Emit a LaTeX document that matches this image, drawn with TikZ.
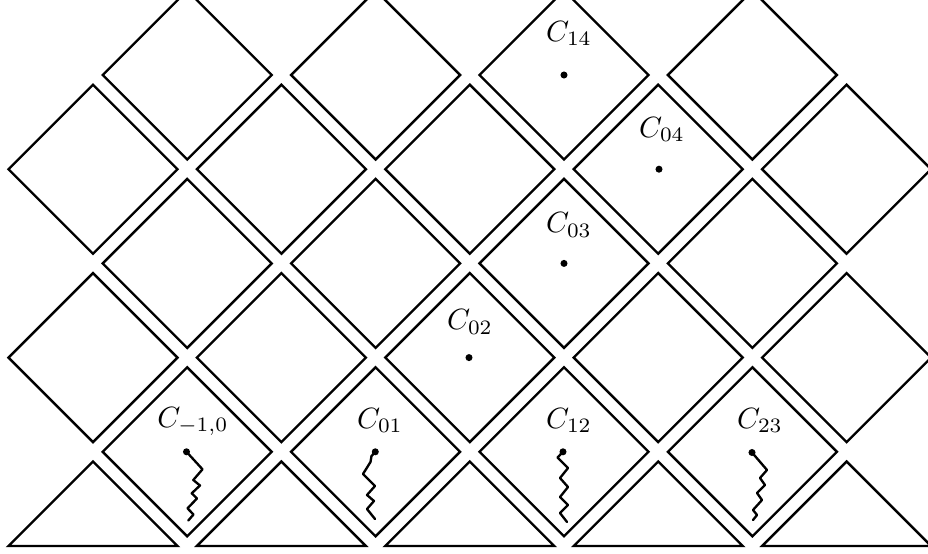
\documentclass[tikz,border=0pt]{standalone}
\begin{document}
\begin{tikzpicture}[x=0.3413pt,y=-0.3413pt,
  cell/.style={line width=0.8pt},
  squig/.style={line width=0.8pt,line join=round,line cap=round},
  lab/.style={anchor=base,inner sep=0pt,font=\normalsize}]
\useasboundingbox (0,0) rectangle (928,554);
\clip (0,0) rectangle (928,554);
\def\h{84.5}
% full diamonds, even rows
\foreach \y in {75,263.4,451.8}
  \foreach \x in {187.2,375.6,564,752.4}
    \draw[cell] (\x-\h,\y) -- (\x,\y-\h) -- (\x+\h,\y) -- (\x,\y+\h) -- cycle;
% full diamonds, odd rows
\foreach \y in {169.2,357.6}
  \foreach \x in {93,281.4,469.8,658.2,846.6}
    \draw[cell] (\x-\h,\y) -- (\x,\y-\h) -- (\x+\h,\y) -- (\x,\y+\h) -- cycle;
% bottom half diamonds
\foreach \x in {93,281.4,469.8,658.2,846.6}
  \draw[cell] (\x-\h,546) -- (\x,546-\h) -- (\x+\h,546) -- cycle;

% dots
\coordinate (d14) at (564,75);
\coordinate (d04) at (659,169.2);
\coordinate (d03) at (564,263.4);
\coordinate (d02) at (469,357.6);
\coordinate (dm10) at (186.5,451.8);
\coordinate (d01) at (375.3,451.8);
\coordinate (d12) at (563,451.8);
\coordinate (d23) at (752,452.5);
\foreach \d in {d14,d04,d03,d02,dm10,d01,d12,d23}
  \fill (\d) circle (1.2pt);

% labels
\node[lab] (l14) at (569,41) {$C_{14}$};
\node[lab] (l04) at (662,137) {$C_{04}$};
\node[lab] (l03) at (569,233) {$C_{03}$};
\node[lab] (l02) at (470,330) {$C_{02}$};
\node[lab] (lm10) at (193,427.5) {$C_{-1,0}$};
\node[lab] (l01) at (380,428) {$C_{01}$};
\node[lab] (l12) at (569,428) {$C_{12}$};
\node[lab] (l23) at (760,428) {$C_{23}$};

% squiggles
\draw[squig] (dm10) -- (202.5,469.3) -- (193.3,480) -- (200,485.5) -- (191.7,493.3)
  -- (197,498.5) -- (187.5,508.3) -- (193.5,514.5) -- (188.3,520.5);
\draw[squig] (d01) -- (371.5,456) -- (370.5,462) -- (363,474) -- (375,486) -- (367,495)
  -- (374,501) -- (367,509) -- (375,519);
\draw[squig] (d12) -- (557.5,457.5) -- (568,468) -- (560,478) -- (568,487) -- (560,497)
  -- (568,505) -- (560,513) -- (567,522);
\draw[squig] (d23) -- (767,470) -- (760,478) -- (765,485) -- (757,493) -- (762,500)
  -- (753,510) -- (757,515) -- (753,520);
\end{tikzpicture}
\end{document}
